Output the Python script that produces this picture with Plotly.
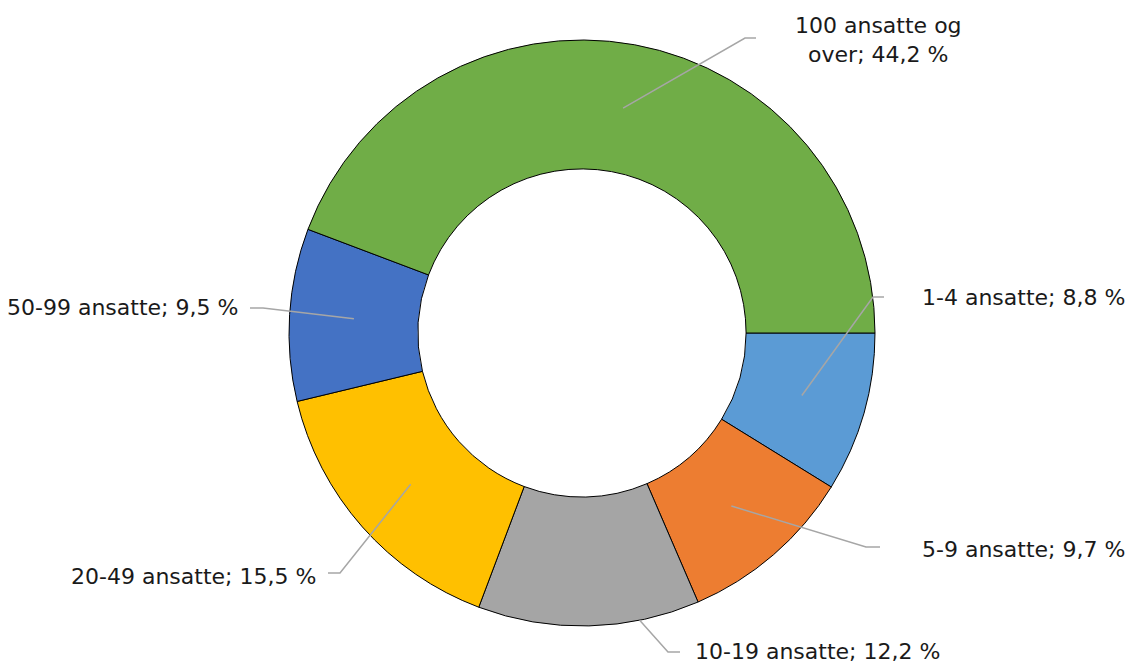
import math
import plotly.graph_objects as go

# ---- data ----
categories = ["1-4 ansatte", "5-9 ansatte", "10-19 ansatte", "20-49 ansatte", "50-99 ansatte", "100 ansatte og over"]
shares = [8.8, 9.7, 12.2, 15.5, 9.5, 44.2]
label_texts = ["1-4 ansatte; 8,8 %", "5-9 ansatte; 9,7 %", "10-19 ansatte; 12,2 %",
               "20-49 ansatte; 15,5 %", "50-99 ansatte; 9,5 %", "100 ansatte og<br>over; 44,2 %"]
colors = ["#5B9BD5", "#ED7D31", "#A5A5A5", "#FFC000", "#4472C4", "#70AD47"]

# ---- layout constants (pixels, page coordinates) ----
W, H = 1134, 663
OFF = 8  # page body margin
CX, CY, R_OUT = 582, 333, 293
HOLE = 0.56
R_IN = R_OUT * HOLE
# leader line: start angle offset (deg), start radius factor (0 = mid ring, 1 = outer edge)
start_offset = [0, 0, -10, 0, 0, 0]
start_rad = [0, 0, 1, 0, 0, 0]
elbows = [(873, 297), (866, 547), (668, 652), (340, 573), (263, 308), (745, 38)]
ends = [(884, 297), (880, 547), (680, 652), (328, 573), (250, 308), (756, 38)]
label_pos = [(920, 297, "left"), (920, 549, "left"), (693, 651, "left"),
             (318, 576, "right"), (240, 308, "right"), (878, 40, "center")]

def px(x):
    return (x - OFF) / W

def py(y):
    return 1 - (y - OFF) / H

fig = go.Figure()
fig.add_trace(go.Pie(
    labels=categories, values=shares, hole=HOLE, sort=False,
    direction="clockwise", rotation=90,
    marker=dict(colors=colors, line=dict(color="black", width=1)),
    textinfo="none", hoverinfo="label+percent",
    domain=dict(x=[px(CX - R_OUT), px(CX + R_OUT)], y=[py(CY + R_OUT), py(CY - R_OUT)]),
    showlegend=False,
))

total = sum(shares)
cum = 0
shapes = []
annotations = []
for i, v in enumerate(shares):
    mid = (cum + v / 2) / total * 360.0
    cum += v
    ang = math.radians(mid + start_offset[i])
    r = (R_IN + R_OUT) / 2 if start_rad[i] == 0 else R_OUT
    sx = CX + r * math.cos(ang)
    sy = CY + r * math.sin(ang)
    ex, ey = elbows[i]
    fx, fy = ends[i]
    path = f"M {px(sx)} {py(sy)} L {px(ex)} {py(ey)} L {px(fx)} {py(fy)}"
    shapes.append(dict(type="path", xref="paper", yref="paper", path=path,
                       line=dict(color="#A6A6A6", width=1.5)))
    lx, ly, al = label_pos[i]
    annotations.append(dict(x=px(lx), y=py(ly), xref="paper", yref="paper",
                            text=label_texts[i], showarrow=False,
                            xanchor=al, yanchor="middle", align="center",
                            font=dict(size=22, color="#1a1a1a", family="DejaVu Sans")))

fig.update_layout(
    width=W, height=H, margin=dict(l=0, r=0, t=0, b=0),
    paper_bgcolor="white", plot_bgcolor="white",
    shapes=shapes, annotations=annotations,
)
fig.write_html("out.html")
